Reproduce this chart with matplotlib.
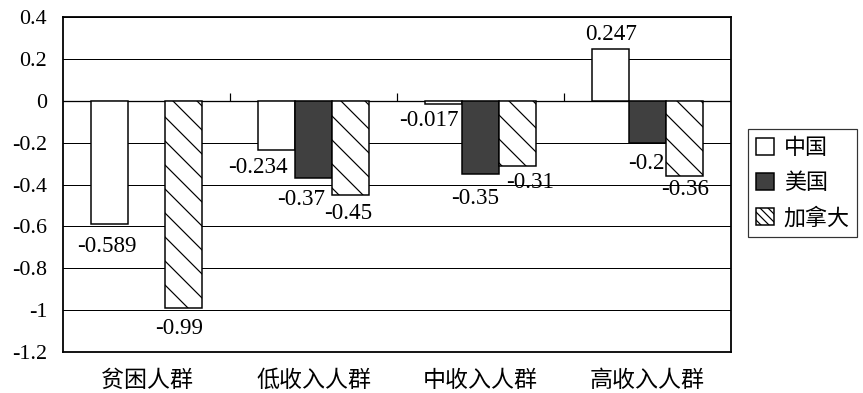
import numpy as np
import matplotlib
matplotlib.use("Agg")
import matplotlib.pyplot as plt
from matplotlib.patches import Patch
from matplotlib.ticker import FuncFormatter

groups = ["贫困人群", "低收入人群", "中收入人群", "高收入人群"]
countries = ["中国", "美国", "加拿大"]
china = [-0.589, -0.234, -0.017, 0.247]
usa = [None, -0.37, -0.35, -0.2]
canada = [-0.99, -0.45, -0.31, -0.36]
y_ticks = [-1.2, -1.0, -0.8, -0.6, -0.4, -0.2, 0.0, 0.2, 0.4]

# look of each series
faces = ["white", "#404040", "white"]
hatches = [None, None, "\\"]
legend_hatches = [None, None, "\\\\\\"]

# label offsets in px from the bar end (dx, dy)
nudges = [
    [(-3, -22), (-18, -18), (-15, -16), (1, 15)],
    [None, (-12, -21), (-5, -24), (-1, -21)],
    [(-4, -20), (-2, -19), (13, -17), (1, -13)],
]

SERIF = ["Liberation Serif", "DejaVu Serif"]
CJK = ["Noto Sans CJK SC", "DejaVu Sans"]
plt.rcParams["axes.unicode_minus"] = False
plt.rcParams["hatch.linewidth"] = 1.2

DPI = 72
fig = plt.figure(figsize=(863 / DPI, 393 / DPI), dpi=DPI, facecolor="white")
ax = fig.add_axes([63 / 863, 41 / 393, 668 / 863, 335 / 393])

width = 0.222
x = np.arange(len(groups))
for k, series in enumerate([china, usa, canada]):
    for i, v in enumerate(series):
        if v is None:
            continue
        xc = x[i] + (k - 1) * width
        ax.bar(xc, v, width, color=faces[k], edgecolor="black",
               linewidth=1.5, hatch=hatches[k], zorder=3)
        dx, dy = nudges[k][i]
        ax.annotate(str(v), (xc, v), xytext=(dx, dy), textcoords="offset points",
                    ha="center", va="center", fontsize=23, family=SERIF,
                    zorder=4)

ax.set_xlim(-0.5, len(groups) - 0.5)
ax.set_ylim(y_ticks[0], y_ticks[-1])
ax.set_yticks(y_ticks)
ax.yaxis.set_major_formatter(FuncFormatter(lambda v, p: f"{round(v, 1) + 0.0:g}"))
ax.tick_params(axis="y", length=0, pad=16, labelsize=22)
for t in ax.get_yticklabels():
    t.set_family(SERIF)

ax.set_xticks(x)
ax.set_xticklabels(groups, family=CJK, fontsize=23)
ax.tick_params(axis="x", length=0, pad=17)

ax.yaxis.grid(True, color="black", linewidth=1.0)
ax.set_axisbelow(True)
for s in ax.spines.values():
    s.set_linewidth(1.8)
    s.set_color("black")

# category axis at zero with ticks between groups
ax.axhline(0, color="black", linewidth=1.3, zorder=2)
ax.plot(x[:-1] + 0.5, np.zeros(len(groups) - 1), ls="none", marker=2,
        ms=8, mew=1.2, color="black", zorder=2)

handles = [Patch(facecolor=faces[k], edgecolor="black", linewidth=1.5,
                 hatch=legend_hatches[k]) for k in range(3)]
leg = fig.legend(handles, countries, loc="center left",
                 bbox_to_anchor=(748 / 863, 1 - 183 / 393),
                 prop={"family": CJK, "size": 22}, frameon=True, fancybox=False,
                 edgecolor="black", handlelength=0.82, handleheight=0.82,
                 handletextpad=0.45, labelspacing=0.6, borderpad=0.35,
                 borderaxespad=0)
leg.get_frame().set_linewidth(1.2)

fig.savefig("out.png", dpi=DPI, facecolor="white")
